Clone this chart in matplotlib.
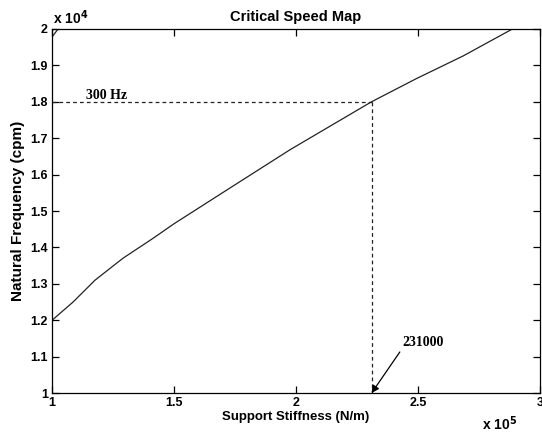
import matplotlib.pyplot as plt

# support stiffness (x 1e5 N/m) and natural frequency (x 1e4 cpm)
stiffness = [1.0, 1.086, 1.176, 1.29, 1.414, 1.5, 1.75, 1.975, 2.15, 2.31, 2.495, 2.686, 2.888]
freq = [1.2, 1.25, 1.31, 1.37, 1.425, 1.465, 1.572, 1.668, 1.737, 1.8, 1.864, 1.926, 2.0]

# second mode just entering the top-left corner
stiffness2 = [1.0, 1.025]
freq2 = [1.978, 2.0]

k_crit = 2.31
f_crit = 1.8

xticks = [1, 1.5, 2, 2.5, 3]
yticks = [1, 1.1, 1.2, 1.3, 1.4, 1.5, 1.6, 1.7, 1.8, 1.9, 2]

plt.rcParams['font.family'] = ['Liberation Sans', 'DejaVu Sans']
plt.rcParams['font.weight'] = 'bold'
plt.rcParams['font.size'] = 9

fig = plt.figure(figsize=(5.42, 4.32), dpi=100)
ax = fig.add_axes([0.096, 0.09, 0.9, 0.843])

ax.plot(stiffness, freq, color='#222222', lw=0.9)
ax.plot(stiffness2, freq2, color='#222222', lw=0.9)

ax.plot([1, k_crit], [f_crit, f_crit], color='#222222', lw=0.9, ls=(0, (3, 2.5)))
ax.plot([k_crit, k_crit], [f_crit, 1], color='#222222', lw=0.9, ls=(0, (3, 2.5)))

ann_font = dict(family=['Liberation Serif', 'DejaVu Serif'], fontweight='bold', fontsize=10)
ax.text(1.14, 1.807, '300 Hz', **ann_font)
ax.text(2.437, 1.14, '231000', va='center', **ann_font)
ax.annotate('', xy=(k_crit, 1.0), xytext=(2.426, 1.113),
            arrowprops=dict(arrowstyle='-|>', color='black', lw=0.9,
                            mutation_scale=11, shrinkA=0, shrinkB=0))

ax.set_xlim(1, 3)
ax.set_ylim(1, 2)
ax.set_xticks(xticks)
ax.set_xticklabels(['1', '1.5', '2', '2.5', '3'])
ax.set_yticks(yticks)
ax.set_yticklabels(['1', '1.1', '1.2', '1.3', '1.4', '1.5', '1.6', '1.7', '1.8', '1.9', '2'])
ax.tick_params(direction='in', top=True, right=True, length=5, width=0.9, pad=3)
for s in ax.spines.values():
    s.set_linewidth(0.9)

ax.set_title('Critical Speed Map', fontweight='bold', fontsize=10.5, pad=6)
ax.set_xlabel('Support Stiffness (N/m)', fontweight='bold', fontsize=9.5, labelpad=1)
ax.set_ylabel('Natural Frequency (cpm)', fontweight='bold', fontsize=11, labelpad=4)

fig.text(0.098, 0.945, 'x 10$^4$', fontweight='bold', fontsize=10)
fig.text(0.89, 0.005, 'x 10$^5$', fontweight='bold', fontsize=10)

fig.savefig('out.png', dpi=100)
